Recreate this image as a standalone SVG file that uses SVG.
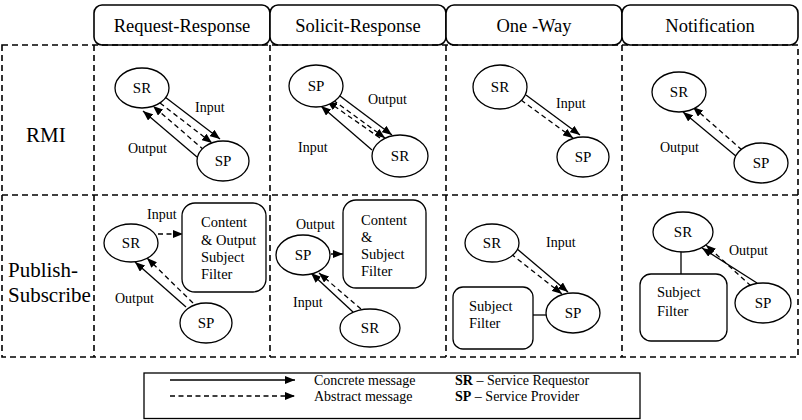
<svg xmlns="http://www.w3.org/2000/svg" width="802" height="420" viewBox="0 0 802 420">
<style>
text{font-family:"Liberation Serif","Times New Roman",serif;fill:#000}
.hd{font-size:18.5px;text-anchor:middle}
.row{font-size:21px}
.lb{font-size:14px}
.nd{font-size:15px;text-anchor:middle}
.bx{font-size:14.5px}
.lg{font-size:14px}
.hbox{fill:#fff;stroke:#000;stroke-width:1.6}
.grid{fill:none;stroke:#000;stroke-width:1.6;stroke-dasharray:6,4}
ellipse,.box{fill:#fff;stroke:#000;stroke-width:1.3}
.s{stroke:#000;stroke-width:1.3;fill:none;marker-end:url(#ah)}
.d{stroke:#000;stroke-width:1.3;fill:none;stroke-dasharray:5,3.5;marker-end:url(#ah)}
.p{stroke:#000;stroke-width:1.3;fill:none}
</style>
<defs>
<marker id="ah" markerUnits="userSpaceOnUse" markerWidth="10" markerHeight="8" refX="10" refY="4" orient="auto">
<path d="M0,0 L10,4 L0,8 z" fill="#000"/>
</marker>
</defs>
<rect width="802" height="420" fill="#fff"/>

<g id="headers">
<rect class="hbox" x="94" y="5" width="176" height="40" rx="8"/>
<rect class="hbox" x="270" y="5" width="176" height="40" rx="8"/>
<rect class="hbox" x="446" y="5" width="176" height="40" rx="8"/>
<rect class="hbox" x="622" y="5" width="176" height="40" rx="8"/>
<text class="hd" x="182" y="32">Request-Response</text>
<text class="hd" x="358" y="32">Solicit-Response</text>
<text class="hd" x="534" y="32">One -Way</text>
<text class="hd" x="710" y="32">Notification</text>
</g>

<g id="grid">
<rect class="grid" x="2" y="45" width="796" height="312"/>
<line class="grid" x1="2" y1="195" x2="798" y2="195"/>
<line class="grid" x1="94" y1="45" x2="94" y2="357"/>
<line class="grid" x1="270" y1="45" x2="270" y2="357"/>
<line class="grid" x1="446" y1="45" x2="446" y2="357"/>
<line class="grid" x1="622" y1="45" x2="622" y2="357"/>
<text class="row" x="26" y="142">RMI</text>
<text class="row" x="8" y="277">Publish-</text>
<text class="row" x="8" y="302">Subscribe</text>
</g>

<g id="connectors">
<line class="s" x1="165" y1="97" x2="220" y2="139"/>
<line class="d" x1="160" y1="103" x2="212" y2="143"/>
<line class="d" x1="204" y1="150" x2="153" y2="106"/>
<line class="s" x1="197" y1="157" x2="143" y2="111"/>
<line class="s" x1="336" y1="93" x2="392" y2="135"/>
<line class="d" x1="333" y1="100" x2="385" y2="138"/>
<line class="d" x1="380" y1="138" x2="327" y2="101"/>
<line class="s" x1="372" y1="150" x2="321" y2="106"/>
<line class="s" x1="526" y1="95" x2="580" y2="135"/>
<line class="d" x1="521" y1="100" x2="573" y2="138"/>
<line class="s" x1="737" y1="157" x2="683" y2="112"/>
<line class="d" x1="742" y1="150" x2="693" y2="107"/>
<line class="d" x1="158" y1="234" x2="183" y2="234"/>
<line class="s" x1="186" y1="307" x2="135" y2="262"/>
<line class="d" x1="193" y1="303" x2="147" y2="258"/>
<line class="d" x1="331" y1="254" x2="343" y2="254"/>
<line class="s" x1="353" y1="312" x2="311" y2="273"/>
<line class="d" x1="361" y1="309" x2="319" y2="273"/>
<line class="s" x1="516" y1="248" x2="568" y2="292"/>
<line class="d" x1="511" y1="254" x2="562" y2="294"/>
<line class="p" x1="533" y1="315" x2="546" y2="315"/>
<line class="p" x1="681" y1="252" x2="681" y2="274"/>
<line class="s" x1="757" y1="283" x2="702" y2="248"/>
<line class="d" x1="751" y1="286" x2="706" y2="245"/>
</g>

<g id="rmi-rr-sr"><ellipse cx="142" cy="88" rx="27" ry="20"/><text class="nd" x="142" y="93">SR</text></g>
<g id="rmi-rr-sp"><ellipse cx="223" cy="161" rx="26" ry="20"/><text class="nd" x="223" y="166">SP</text></g>
<g id="rmi-rr-labels"><text class="lb" x="195" y="112">Input</text><text class="lb" x="128" y="153">Output</text></g>

<g id="rmi-sr-sp"><ellipse cx="316" cy="86" rx="27" ry="21"/><text class="nd" x="316" y="91">SP</text></g>
<g id="rmi-sr-sr"><ellipse cx="400" cy="156" rx="28" ry="21"/><text class="nd" x="400" y="161">SR</text></g>
<g id="rmi-sr-labels"><text class="lb" x="368" y="104">Output</text><text class="lb" x="298" y="152">Input</text></g>

<g id="rmi-ow-sr"><ellipse cx="500" cy="87" rx="27" ry="22"/><text class="nd" x="500" y="92">SR</text></g>
<g id="rmi-ow-sp"><ellipse cx="583" cy="157" rx="26" ry="20"/><text class="nd" x="583" y="162">SP</text></g>
<g id="rmi-ow-labels"><text class="lb" x="556" y="108">Input</text></g>

<g id="rmi-nt-sr"><ellipse cx="679" cy="92" rx="27" ry="20"/><text class="nd" x="679" y="97">SR</text></g>
<g id="rmi-nt-sp"><ellipse cx="761" cy="163" rx="27" ry="20"/><text class="nd" x="761" y="168">SP</text></g>
<g id="rmi-nt-labels"><text class="lb" x="660" y="152">Output</text></g>

<g id="ps-rr-sr"><ellipse cx="131" cy="243" rx="27" ry="19"/><text class="nd" x="131" y="248">SR</text></g>
<g id="ps-rr-sp"><ellipse cx="206" cy="323" rx="26" ry="20"/><text class="nd" x="206" y="328">SP</text></g>
<g id="ps-rr-filter"><rect class="box" x="182" y="203" width="84" height="89" rx="13"/>
<text class="bx" x="201" y="227">Content</text><text class="bx" x="201" y="245">&amp; Output</text><text class="bx" x="201" y="262">Subject</text><text class="bx" x="201" y="279">Filter</text></g>
<g id="ps-rr-labels"><text class="lb" x="147" y="219">Input</text><text class="lb" x="115" y="303">Output</text></g>

<g id="ps-sr-sp"><ellipse cx="303" cy="255" rx="27" ry="20"/><text class="nd" x="303" y="260">SP</text></g>
<g id="ps-sr-sr"><ellipse cx="370" cy="328" rx="30" ry="19"/><text class="nd" x="370" y="333">SR</text></g>
<g id="ps-sr-filter"><rect class="box" x="343" y="200" width="83" height="88" rx="13"/>
<text class="bx" x="361" y="225">Content</text><text class="bx" x="361" y="242">&amp;</text><text class="bx" x="361" y="259">Subject</text><text class="bx" x="361" y="276">Filter</text></g>
<g id="ps-sr-labels"><text class="lb" x="296" y="229">Output</text><text class="lb" x="293" y="307">Input</text></g>

<g id="ps-ow-sr"><ellipse cx="492" cy="243" rx="27" ry="19"/><text class="nd" x="492" y="248">SR</text></g>
<g id="ps-ow-sp"><ellipse cx="573" cy="313" rx="27" ry="20"/><text class="nd" x="573" y="318">SP</text></g>
<g id="ps-ow-filter"><rect class="box" x="453" y="287" width="80" height="62" rx="10"/>
<text class="bx" x="469" y="311">Subject</text><text class="bx" x="469" y="328">Filter</text></g>
<g id="ps-ow-labels"><text class="lb" x="546" y="247">Input</text></g>

<g id="ps-nt-sr"><ellipse cx="683" cy="232" rx="30" ry="20"/><text class="nd" x="683" y="237">SR</text></g>
<g id="ps-nt-sp"><ellipse cx="763" cy="303" rx="28" ry="20"/><text class="nd" x="763" y="308">SP</text></g>
<g id="ps-nt-filter"><rect class="box" x="640" y="274" width="87" height="67" rx="11"/>
<text class="bx" x="657" y="297">Subject</text><text class="bx" x="657" y="316">Filter</text></g>
<g id="ps-nt-labels"><text class="lb" x="729" y="255">Output</text></g>

<g id="legend">
<rect x="144" y="373" width="496" height="45.5" fill="#fff" stroke="#000" stroke-width="1.3"/>
<line class="s" x1="170" y1="380" x2="295" y2="380"/>
<line class="d" x1="170" y1="396" x2="295" y2="396"/>
<text class="lg" x="314" y="385">Concrete message</text>
<text class="lg" x="314" y="401">Abstract message</text>
<text class="lg" x="455" y="385"><tspan font-weight="bold">SR</tspan> – Service Requestor</text>
<text class="lg" x="455" y="401"><tspan font-weight="bold">SP</tspan> – Service Provider</text>
</g>
</svg>
